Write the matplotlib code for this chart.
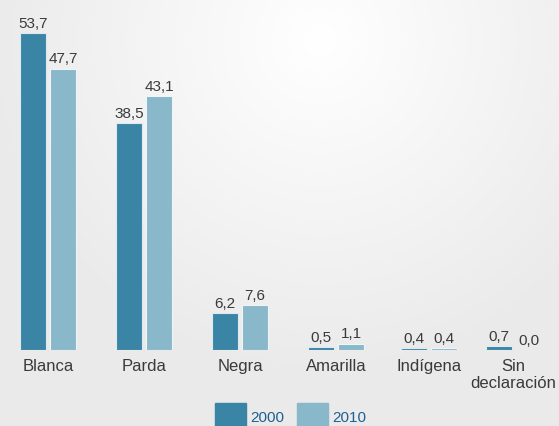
import numpy as np
import matplotlib.pyplot as plt
from matplotlib.patches import Rectangle

plt.rcParams['font.family'] = ['Liberation Sans', 'DejaVu Sans']

categories = ["Blanca", "Parda", "Negra", "Amarilla", "Indígena", "Sin\ndeclaración"]
values2000 = [53.7, 38.5, 6.2, 0.5, 0.4, 0.7]
values2010 = [47.7, 43.1, 7.6, 1.1, 0.4, 0.0]
years = ["2000", "2010"]

# layout (group centres are not evenly spaced in the original)
xpos = np.array([0, 1, 2, 3, 3.97, 4.85])
width = 0.27
offset = 0.156
c2000 = "#3a84a5"
c2010 = "#88b8c9"
txt = "#3a3a3a"
W, H = 559, 426


def fmt(v):
    return f"{v:.1f}".replace(".", ",")


fig = plt.figure(figsize=(W / 100, H / 100), dpi=100)

# radial gradient background
bg = fig.add_axes([0, 0, 1, 1], zorder=-10)
yy, xx = np.mgrid[0:H, 0:W]
d = np.sqrt((xx - 320) ** 2 + (yy - 40) ** 2) / 330
d = np.clip(d, 0, 1)
shade = 1.0 - 0.08 * d
bg.imshow(np.dstack([shade, shade, shade]), aspect="auto", extent=[0, 1, 0, 1])
bg.axis("off")

ax = fig.add_axes([0, 76 / H, 1, 350 / H])
ax.patch.set_alpha(0)

b1 = ax.bar(xpos - offset, values2000, width, color=c2000, edgecolor="#dfeaf0", linewidth=0.8)
b2 = ax.bar(xpos + offset, values2010, width, color=c2010, edgecolor="#eef4f7", linewidth=0.8)
for bars, vals in ((b1, values2000), (b2, values2010)):
    for rect, v in zip(bars, vals):
        if v == 0:
            rect.set_visible(False)
        ax.annotate(fmt(v), (rect.get_x() + rect.get_width() / 2, v),
                    xytext=(0, 1.5), textcoords="offset points",
                    ha="center", va="bottom", fontsize=11, color=txt)

ax.set_xlim(-0.5, W / 96 - 0.5)
ax.set_ylim(0, 350 / 5.9)
ax.set_xticks(xpos)
ax.set_xticklabels(categories, fontsize=12, color=txt, linespacing=1.2)
ax.tick_params(axis="x", length=0, pad=6.5)
ax.set_yticks([])
for s in ax.spines.values():
    s.set_visible(False)

# legend: squares running off the bottom edge, like the original
for x0, col, lab in ((215, c2000, years[0]), (297, c2010, years[1])):
    fig.patches.append(Rectangle((x0 / W, -10 / H), 31 / W, 33 / H,
                                 transform=fig.transFigure, color=col, zorder=5))
    fig.text((x0 + 35) / W, 0.5 / H, lab, fontsize=11, color="#1f5f92",
             ha="left", va="bottom")

fig.savefig("out.png", dpi=100)
